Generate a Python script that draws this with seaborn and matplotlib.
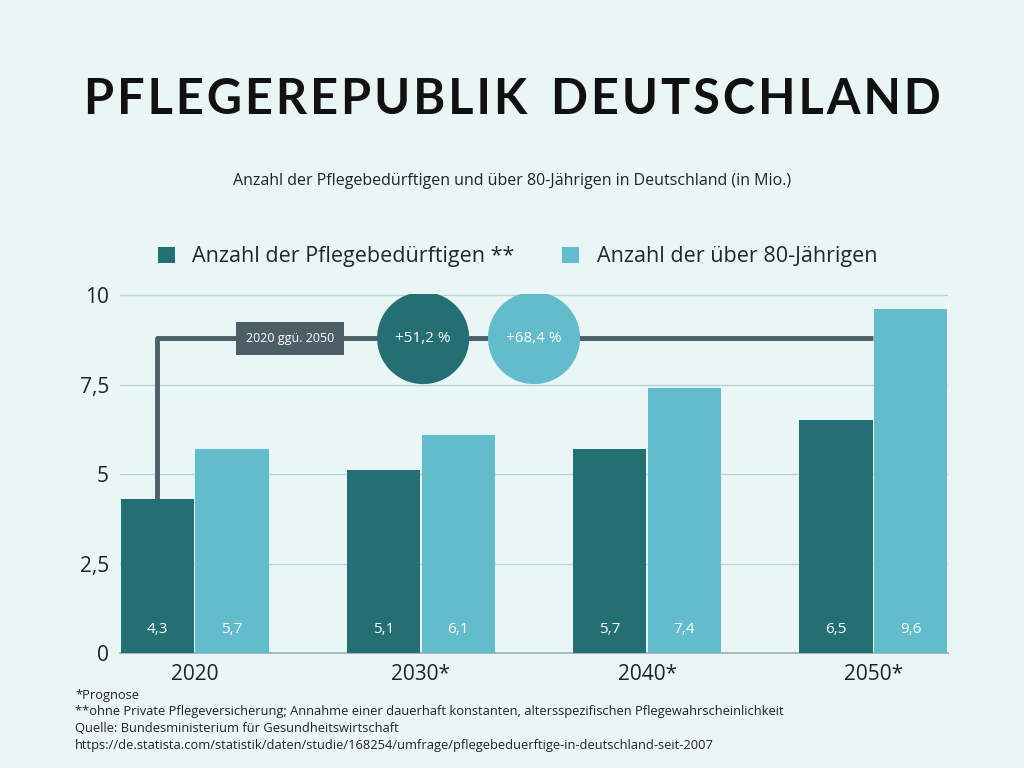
import pandas as pd
import seaborn as sns
import matplotlib.pyplot as plt

# Data
years = ['2020', '2030*', '2040*', '2050*']
pflege = [4.3, 5.1, 5.7, 6.5]
ueber80 = [5.7, 6.1, 7.4, 9.6]
s_pflege = 'Anzahl der Pflegebedürftigen **'
s_80 = 'Anzahl der über 80-Jährigen'
yticks = [0, 2.5, 5, 7.5, 10]
ytick_labels = ['0', '2,5', '5', '7,5', '10']

df = pd.DataFrame({
    'Jahr': years * 2,
    'Wert': pflege + ueber80,
    'Serie': [s_pflege] * 4 + [s_80] * 4,
})

bg = '#eaf6f6'
dark = '#236f73'
light = '#62bccb'

sns.set_theme(style='white')
plt.rcParams['font.family'] = ['Open Sans', 'DejaVu Sans']

fig = plt.figure(figsize=(10.24, 7.68), dpi=100, facecolor=bg)
ax = fig.add_axes([120 / 1024, 115 / 768, 828 / 1024, 359 / 768], facecolor=bg)

sns.barplot(data=df, x='Jahr', y='Wert', hue='Serie', palette=[dark, light],
            width=0.66, gap=0.02, saturation=1, ax=ax, zorder=3,
            edgecolor='none', linewidth=0)

ax.set_xlim(-0.33, 3.33)
ax.set_ylim(0, 10.03)
ax.set_yticks(yticks)
ax.set_yticklabels(ytick_labels)
ax.grid(axis='y', color='#bcd3d6', linewidth=1, zorder=0)
for s in ['top', 'right', 'left']:
    ax.spines[s].set_visible(False)
ax.spines['bottom'].set_color('#9ab4b7')
ax.tick_params(axis='both', labelsize=15, colors='#222222', length=0, pad=8)
ax.set_xlabel('')
ax.set_ylabel('')

# value labels at bar bottoms
for cont in ax.containers:
    for bar in cont:
        v = bar.get_height()
        ax.text(bar.get_x() + bar.get_width() / 2, 0.65, f'{v:.1f}'.replace('.', ','),
                ha='center', va='center', color='white', fontsize=11, zorder=5)

# bracket 2020 vs 2050
xl = ax.containers[0][0].get_x() + ax.containers[0][0].get_width() / 2
xr = 3
yb = 8.8
ax.plot([xl, xl, xr], [pflege[0], yb, yb], color='#4d5f66', linewidth=3.5,
        zorder=4, solid_capstyle='butt')
ax.text(0.42, yb, '2020 ggü. 2050', ha='center', va='center', color='white',
        fontsize=9, zorder=6,
        bbox=dict(boxstyle='square,pad=0.8', fc='#4d5f66', ec='none'))
ax.scatter([1.01, 1.5], [yb, yb], s=4400, c=[dark, light], zorder=6, linewidths=0)
ax.text(1.01, yb, '+51,2 %', ha='center', va='center', color='white', fontsize=11, zorder=7)
ax.text(1.5, yb, '+68,4 %', ha='center', va='center', color='white', fontsize=11, zorder=7)

ax.legend(loc='lower center', bbox_to_anchor=(0.48, 1.02), ncol=2, frameon=False,
          fontsize=15.5, handlelength=0.8, handleheight=0.8, columnspacing=2.2)

fig.text(0.5, 0.87, 'P F L E G E R E P U B L I K   D E U T S C H L A N D'.replace(' ', '\u200a').replace('\u200a\u200a\u200a', '  '),
         ha='center', va='center', fontsize=35, color='#111111', weight='bold',
         family=['Lato', 'DejaVu Sans'])
fig.text(0.5, 0.764, 'Anzahl der Pflegebedürftigen und über 80-Jährigen in Deutschland (in Mio.)',
         ha='center', va='center', fontsize=11.5, color='#222222')

notes = ('*Prognose\n'
         '**ohne Private Pflegeversicherung; Annahme einer dauerhaft konstanten, altersspezifischen Pflegewahrscheinlichkeit\n'
         'Quelle: Bundesministerium für Gesundheitswirtschaft\n'
         'https://de.statista.com/statistik/daten/studie/168254/umfrage/pflegebeduerftige-in-deutschland-seit-2007')
fig.text(75 / 1024, 1 - 689 / 768, notes, ha='left', va='top', fontsize=9.3,
         color='#222222', linespacing=1.35)

plt.savefig('out.png', dpi=100, facecolor=bg)
plt.close()
